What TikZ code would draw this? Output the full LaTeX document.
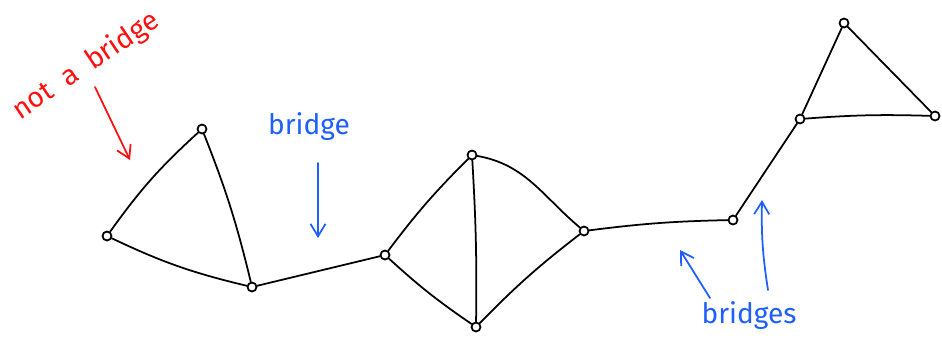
\documentclass[tikz,border=0pt]{standalone}
\usepackage{fontspec}
\setmainfont{Fira Sans}
\usetikzlibrary{arrows.meta}
\definecolor{pen}{HTML}{000000}
\definecolor{penred}{HTML}{FF1010}
\definecolor{penblue}{HTML}{1F5FFF}

\begin{document}
\begin{tikzpicture}[
    x=0.02cm, y=-0.02cm,
    vertex/.style={circle, draw=pen, line width=1pt, inner sep=0pt, minimum size=0.18cm},
    edge/.style={draw=pen, line width=1pt, line cap=round},
    note/.style={font=\fontsize{16}{18}\selectfont},
    arr/.style={-{Straight Barb[length=2.5mm, width=3mm]}, line width=1pt, line cap=round}
]
    \useasboundingbox (0,0) rectangle (942,343);

    % left triangle
    \node[vertex] (a) at (107,236) {};
    \node[vertex] (b) at (202,129) {};
    \node[vertex] (c) at (252,287) {};
    % middle block
    \node[vertex] (d) at (385,255) {};
    \node[vertex] (e) at (472,155) {};
    \node[vertex] (f) at (476,327) {};
    \node[vertex] (g) at (584,231) {};
    % right side
    \node[vertex] (h) at (733,220) {};
    \node[vertex] (i) at (800,119) {};
    \node[vertex] (j) at (844,23)  {};
    \node[vertex] (k) at (935,116) {};

    \draw[edge] (a) to[bend left=6] (b);
    \draw[edge] (b) to[bend left=4] (c);
    \draw[edge] (a) to[bend right=6] (c);
    \draw[edge] (c) -- (d);
    \draw[edge] (d) to[bend left=4] (e);
    \draw[edge] (d) to[bend right=4] (f);
    \draw[edge] (e) to[bend left=2] (f);
    \draw[edge] (e) to[out=-10, in=140] (g);
    \draw[edge] (f) to[bend left=4] (g);
    \draw[edge] (g) to[bend left=3] (h);
    \draw[edge] (h) -- (i);
    \draw[edge] (i) -- (j);
    \draw[edge] (j) -- (k);
    \draw[edge] (i) to[bend left=3] (k);

    % labels
    \node[note, text=penred, rotate=34] (nb) at (86,66) {not\ \ a\ \ bridge};
    \coordinate (nbs) at (95,87);
    \coordinate (nbe) at (130,160);
    \draw[arr, penred] (nbs) -- (nbe);

    \node[note, text=penblue] (br) at (309,127) {bridge};
    \coordinate (brs) at (318,163);
    \coordinate (bre) at (318,238);
    \draw[arr, penblue] (brs) -- (bre);

    \node[note, text=penblue] (brs2) at (749,316) {bridges};
    \coordinate (bsa) at (710,298);
    \coordinate (bea) at (680,250);
    \coordinate (bsb) at (768,290);
    \coordinate (beb) at (762,200);
    \draw[arr, penblue] (bsa) -- (bea);
    \draw[arr, penblue] (bsb) to[bend left=5] (beb);
\end{tikzpicture}
\end{document}
